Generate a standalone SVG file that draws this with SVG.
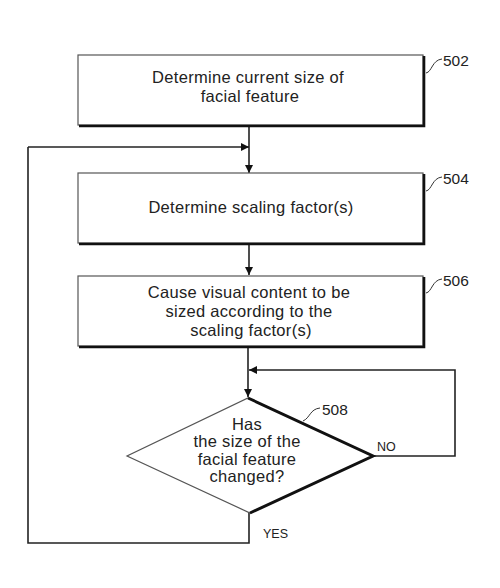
<svg xmlns="http://www.w3.org/2000/svg" width="500" height="588" viewBox="0 0 500 588">
<defs>
<style>
.box{fill:#fff;stroke:#555;stroke-width:1.2}
.shadow{fill:none;stroke:#111;stroke-width:2.6}
.t{font-family:"Liberation Sans",Arial,sans-serif;font-size:16.5px;letter-spacing:0.3px;fill:#222;text-anchor:middle}
.ref{font-family:"Liberation Sans",Arial,sans-serif;font-size:15.5px;fill:#222}
.yn{font-family:"Liberation Sans",Arial,sans-serif;font-size:12.5px;fill:#222}
.lead{fill:none;stroke:#333;stroke-width:1}
.c{fill:none;stroke:#222;stroke-width:1.6}
</style>
<marker id="ah" viewBox="0 0 10 10" refX="10" refY="5" markerWidth="8" markerHeight="8" markerUnits="userSpaceOnUse" orient="auto">
<path d="M0,0 L10,5 L0,10 Z" fill="#111"/>
</marker>
</defs>
<rect width="500" height="588" fill="#fff"/>
<g id="connectors">
<line class="c" x1="249" y1="126" x2="249" y2="173" marker-end="url(#ah)"/>
<polyline class="c" points="28,147 249,147" marker-end="url(#ah)"/>
<line class="c" x1="249" y1="244" x2="249" y2="275" marker-end="url(#ah)"/>
<line class="c" x1="248" y1="347" x2="248" y2="397" marker-end="url(#ah)"/>
<polyline class="c" points="373,456 455,456 455,370 249,370" marker-end="url(#ah)"/>
<polyline class="c" points="249,513 249,543 28,543 28,147"/>
<text class="yn" x="377" y="451">NO</text>
<text class="yn" x="263" y="538">YES</text>
</g>
<g id="n502">
<rect class="box" x="78" y="55" width="345" height="70"/>
<polyline class="shadow" points="424,56 424,126 79,126"/>
<text class="t" x="248" y="83">Determine current size of</text>
<text class="t" x="250" y="102">facial feature</text>
<path class="lead" d="M426,73 C432,72 432,60 442,59"/>
<text class="ref" x="443" y="66">502</text>
</g>
<g id="n504">
<rect class="box" x="78" y="173" width="345" height="70"/>
<polyline class="shadow" points="424,174 424,244 79,244"/>
<text class="t" x="251" y="213">Determine scaling factor(s)</text>
<path class="lead" d="M426,191 C432,190 432,178 442,177"/>
<text class="ref" x="443" y="184">504</text>
</g>
<g id="n506">
<rect class="box" x="78" y="276" width="345" height="70"/>
<polyline class="shadow" points="424,277 424,347 79,347"/>
<text class="t" x="249" y="298">Cause visual content to be</text>
<text class="t" x="249" y="317">sized according to the</text>
<text class="t" x="251" y="336">scaling factor(s)</text>
<path class="lead" d="M426,293 C432,292 432,280 442,279"/>
<text class="ref" x="443" y="286">506</text>
</g>
<g id="n508">
<polygon points="248,398 373,456 250,513 127,456" fill="#fff" stroke="#555" stroke-width="1.2"/>
<polyline points="248,398 373,456 250,513" fill="none" stroke="#111" stroke-width="3"/>
<text class="t" x="247" y="430">Has</text>
<text class="t" x="247" y="447">the size of the</text>
<text class="t" x="247" y="465">facial feature</text>
<text class="t" x="247" y="482">changed?</text>
<path class="lead" d="M303,421 C310,418 310,409 320,408"/>
<text class="ref" x="322" y="415">508</text>
</g>
</svg>
